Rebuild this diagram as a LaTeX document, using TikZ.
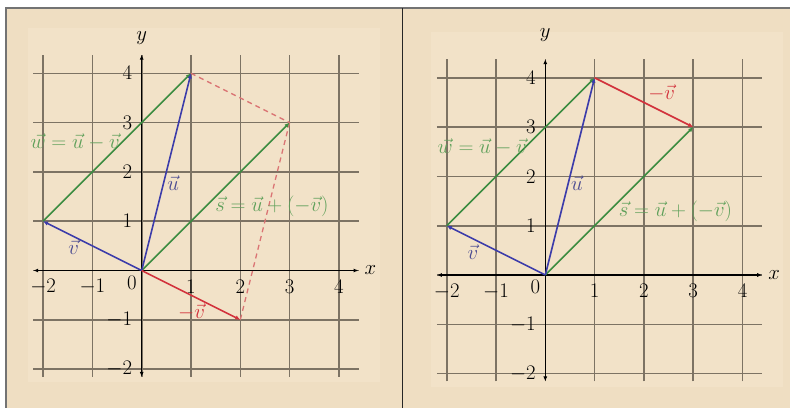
\documentclass[tikz,border=0pt]{standalone}
\usetikzlibrary{arrows.meta}
\definecolor{bgc}{RGB}{239,222,194}
\definecolor{bgin}{RGB}{242,226,200}
\definecolor{gridc}{RGB}{125,115,100}
\definecolor{vgreen}{RGB}{60,140,65}
\definecolor{lgreen}{RGB}{95,160,90}
\definecolor{vblue}{RGB}{60,60,170}
\definecolor{lblue}{RGB}{75,75,145}
\definecolor{vred}{RGB}{210,50,60}
\definecolor{dred}{RGB}{218,115,115}
\definecolor{framec}{RGB}{115,115,115}
\tikzset{
  gridline/.style={gridc, line width=1.6pt},
  axisline/.style={black, line width=1.2pt, {Latex[length=5pt,width=4pt]}-{Latex[length=5pt,width=4pt]}},
  vecline/.style={line width=1.6pt, -{Latex[length=5pt,width=4.5pt]}},
  dashline/.style={dred, line width=1.3pt, dash pattern=on 5pt off 4pt},
  lab/.style={font=\fontsize{20}{24}\selectfont, inner sep=0pt},
}
\newcommand\panelbase[2]{%
  \fill[bgin] (-2.31,-2.27) rectangle (4.83,4.92);
  \foreach \i in {-2,...,4} {
    \draw[gridline] (\i,-2.16) -- (\i,4.38);
    \draw[gridline] (-2.2,\i) -- (4.4,\i);
  }
  \coordinate (#1xl) at (-2.2,0);
  \coordinate (#1xr) at (4.4,0);
  \coordinate (#1yb) at (0,-2.16);
  \coordinate (#1yt) at (0,4.38);
  \draw[axisline] (#1xl) -- (#1xr);
  \draw[axisline] (#1yb) -- (#1yt);
  \node[lab] (#1xlab) at (4.64,0) {$x$};
  \node[lab] (#1ylab) at (0,#2) {$y$};
  \foreach \i in {-2,-1,1,2,3,4} {
    \node[lab] (#1tx\i) at (\i,-0.33) {$\i$};
    \node[lab, anchor=east] (#1ty\i) at (-0.19,\i) {$\i$};
  }
  \node[lab] (#1t0) at (-0.2,-0.24) {$0$};
  \coordinate (#1O) at (0,0);
  \coordinate (#1U) at (1,4);
  \coordinate (#1V) at (-2,1);
  \coordinate (#1S) at (3,3);
  \coordinate (#1N) at (2,-1);
}
\begin{document}
\begin{tikzpicture}[x=1pt,y=1pt]
\useasboundingbox (0,0) rectangle (790,-408);
\fill[white] (0,0) rectangle (790,-408);
\fill[bgc] (6,-8) rectangle (790,-408);
\draw[framec, line width=1.5pt] (790,-8) -- (6,-8) -- (6,-408);
\draw[black!85, line width=1.2pt] (402.5,-8) -- (402.5,-408);

% left panel
\begin{scope}[shift={(141.7,-270.5)}, x=49.3pt, y=49.3pt]
  \panelbase{L}{4.72}
  \draw[dashline] (LU) -- (LS);
  \draw[dashline] (LS) -- (LN);
  \draw[vecline, vgreen] (LV) -- (LU);
  \draw[vecline, vgreen] (LO) -- (LS);
  \draw[vecline, vblue] (LO) -- (LU);
  \draw[vecline, vblue] (LO) -- (LV);
  \draw[vecline, vred] (LO) -- (LN);
  \node[lab, text=lgreen] (Lw) at (-1.35,2.6) {$\vec{w}=\vec{u}-\vec{v}$};
  \node[lab, text=lblue] (Lu) at (0.64,1.78) {$\vec{u}$};
  \node[lab, text=lgreen] (Ls) at (2.64,1.3) {$\vec{s}=\vec{u}+(-\vec{v})$};
  \node[lab, text=lblue] (Lv) at (-1.38,0.48) {$\vec{v}$};
  \node[lab, text=vred] (Lnv) at (1.01,-0.84) {$-\vec{v}$};
\end{scope}

% right panel
\begin{scope}[shift={(545.3,-275)}, x=49.3pt, y=49.3pt]
  \panelbase{R}{4.86}
  \draw[vecline, vgreen] (RV) -- (RU);
  \draw[vecline, vgreen] (RO) -- (RS);
  \draw[vecline, vblue] (RO) -- (RU);
  \draw[vecline, vblue] (RO) -- (RV);
  \draw[vecline, vred] (RU) -- (RS);
  \node[lab, text=lgreen] (Rw) at (-1.28,2.6) {$\vec{w}=\vec{u}-\vec{v}$};
  \node[lab, text=lblue] (Ru) at (0.64,1.87) {$\vec{u}$};
  \node[lab, text=lgreen] (Rs) at (2.64,1.3) {$\vec{s}=\vec{u}+(-\vec{v})$};
  \node[lab, text=lblue] (Rv) at (-1.47,0.47) {$\vec{v}$};
  \node[lab, text=vred] (Rnv) at (2.36,3.69) {$-\vec{v}$};
\end{scope}
\end{tikzpicture}
\end{document}
